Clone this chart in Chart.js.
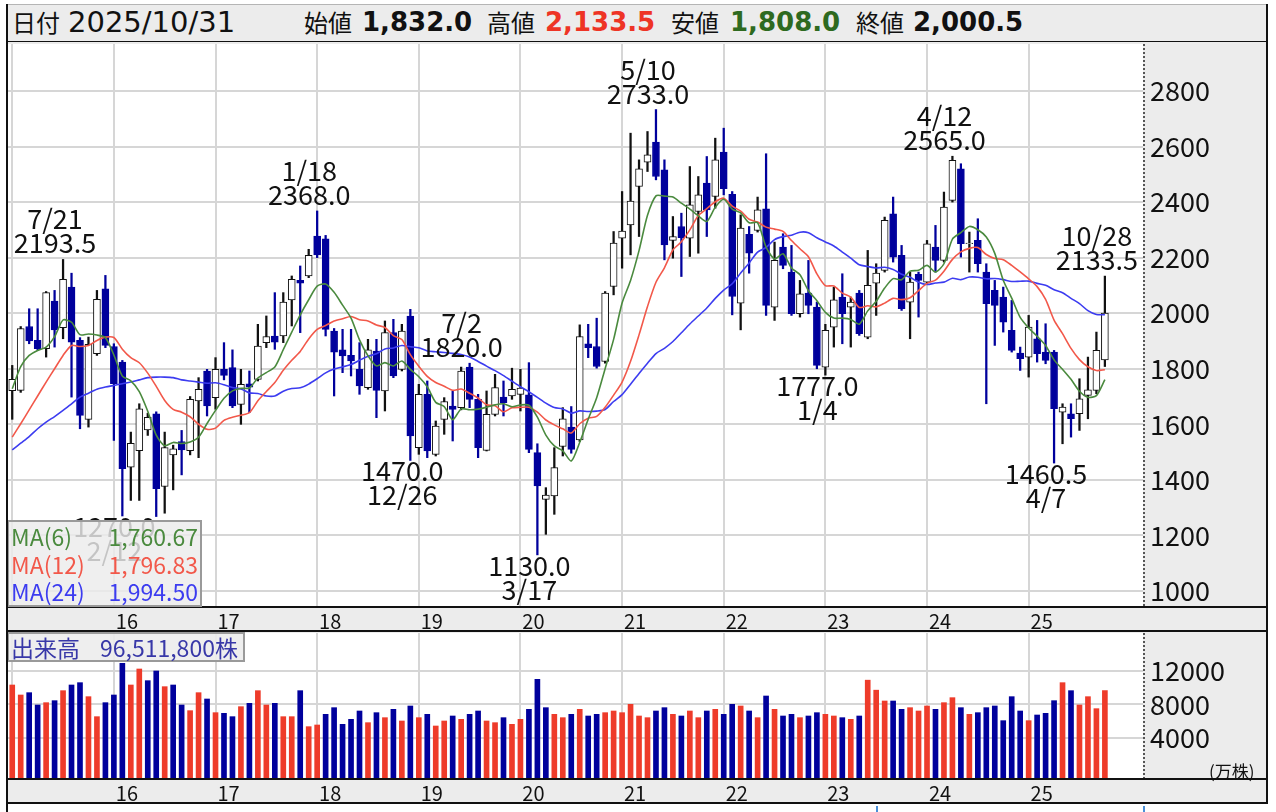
<!DOCTYPE html>
<html><head><meta charset="utf-8">
<script src="https://cdn.jsdelivr.net/npm/chart.js@4.4.1/dist/chart.umd.min.js"></script>
<style>
html,body{margin:0;padding:0;background:#fff;}
body{width:1276px;height:812px;position:relative;overflow:hidden;font-family:"Noto Sans CJK JP","Noto Sans",sans-serif;color:#111;}
.a{position:absolute;white-space:nowrap;}
#header{left:8px;top:4px;width:1259px;height:36px;background:#ececec;border-top:1px solid #b5b5b5;border-bottom:2px solid #111;}
.hl{top:4px;height:36px;line-height:36px;font-size:24px;}
.hd{top:4px;height:36px;line-height:36px;font-size:29px;font-family:"DejaVu Sans",sans-serif;}
.hv{top:4px;height:36px;line-height:36px;font-size:26px;font-weight:bold;font-family:"DejaVu Sans",sans-serif;}
canvas{position:absolute;left:8px;}
#legend{left:7px;top:520px;width:191px;height:83px;border:2px solid #9a9a9a;background:rgba(236,236,236,0.82);font-size:23px;}
#legend div{position:absolute;left:2px;right:2px;height:27px;line-height:27px;}
#legend span.v{position:absolute;right:0;}
#vlabel{left:7px;top:632px;width:232px;height:26px;border:2px solid #9a9a9a;background:rgba(236,236,236,0.9);font-size:23px;line-height:26px;color:#3838a8;padding-left:2px;}
#unit{left:1209px;top:758px;font-size:17px;}
.vline{position:absolute;background:#111;}
</style></head>
<body>
<div id="header" class="a"></div>
<span class="a hl" style="left:12px">日付</span>
<span class="a hd" style="left:68px">2025/10/31</span>
<span class="a hl" style="left:304px">始値</span>
<span class="a hv" style="left:362px">1,832.0</span>
<span class="a hl" style="left:487px">高値</span>
<span class="a hv" style="left:545px;color:#ee3425">2,133.5</span>
<span class="a hl" style="left:671px">安値</span>
<span class="a hv" style="left:730px;color:#2e6a20">1,808.0</span>
<span class="a hl" style="left:856px">終値</span>
<span class="a hv" style="left:913px">2,000.5</span>

<canvas id="main" width="1260" height="590" style="top:42px"></canvas>
<canvas id="vol" width="1260" height="172" style="top:632px"></canvas>

<div id="legend" class="a"></div>
<div id="vlabel" class="a">出来高<span style="margin-left:20px">96,511,800株</span></div>
<div id="unit" class="a">(万株)</div>

<div class="vline" style="left:6px;top:4px;width:2px;height:808px"></div>
<div class="vline" style="left:1266px;top:4px;width:2px;height:800px"></div>
<div class="vline" style="left:1143px;top:806px;width:2px;height:6px;background:#4a8fd8"></div>
<div class="vline" style="left:876px;top:806px;width:2px;height:6px;background:#4a8fd8"></div>

<script>
// ---------- data (monthly, Jan 2015 - Oct 2025) ----------
const startYear = 2015;
const opens = [1721,1722,1952,1902,1872,2044,1948,2094,1902,1618,
1854,2088,1880,1824,1446,1505,1580,1638,1376,1490,
1538,1505,1684,1792,1696,1798,1804,1672,1746,1762,
1894,1918,1918,2048,2118,2134,2278,2268,1936,1868,
1848,1798,1732,1864,1720,1930,1798,1990,1516,1708,
1492,1618,1666,1660,1806,1690,1506,1636,1698,1702,
1708,1706,1498,1330,1342,1520,1590,1544,1890,1880,
1826,2096,2270,2318,2456,2544,2616,2516,2262,2312,
2270,2366,2468,2420,2580,2428,2036,2284,2298,2376,
2022,2238,2148,1998,2072,2022,1806,1950,2058,2022,
2072,1914,2108,2154,2358,2208,2040,2140,2112,2238,
2190,2406,2520,2250,2262,2148,2082,2058,1938,1856,
1842,1908,1860,1860,1644,1638,1638,1704,1722,1832];
const highs = [1812,1952,2016,2016,2078,2082,2193.5,2144,1912,1914,
2082,2136,1890,1830,1572,1674,1640,1645,1572,1525,
1578,1700,1768,1798,1840,1894,1868,1798,1792,1960,
1990,2074,2074,2134,2170,2230,2368,2280,1945,1942,
1942,1894,1906,1906,1972,1978,1960,2014,1744,1756,
1612,1696,1720,1806,1820,1708,1720,1780,1756,1802,
1798,1822,1530,1372,1516,1660,1664,1958,1960,1982,
2078,2294,2438,2648,2552,2654,2733,2552,2348,2360,
2528,2492,2564,2630,2666,2438,2354,2312,2418,2574,
2256,2286,2244,2118,2190,2040,1960,2094,2142,2058,
2082,2226,2178,2346,2418,2244,2148,2148,2262,2316,
2436,2565,2538,2292,2340,2178,2118,2094,2046,1878,
1992,1974,1962,1866,1674,1674,1764,1842,1932,2133.5];
const lows = [1618,1715,1890,1866,1842,1878,1908,1698,1584,1590,
1848,1876,1542,1270,1326,1326,1560,1268,1280,1364,
1418,1490,1480,1630,1654,1760,1660,1600,1642,1756,
1876,1870,1894,1954,1930,2128,2200,1918,1702,1786,
1774,1708,1726,1624,1648,1768,1792,1470,1492,1480,
1486,1564,1540,1652,1660,1480,1504,1630,1630,1690,
1648,1498,1130,1204,1276,1486,1496,1538,1840,1802,
1820,2066,2162,2210,2276,2510,2480,2192,2198,2132,
2204,2216,2276,2378,2426,1994,1940,2144,2292,1992,
1974,2160,1992,1986,1998,1800,1777,1878,1890,1878,
1920,1908,1992,2148,2184,2010,1908,1986,2106,2148,
2184,2400,2202,2148,2148,1674,1884,1932,1860,1794,
1770,1824,1818,1460.5,1530,1554,1578,1620,1710,1808];
const closes = [1762,1945,1900,1872,2074,1940,2122,1896,1632,1888,
2050,1884,1746,1440,1532,1656,1625,1368,1516,1512,
1508,1690,1726,1666,1798,1776,1666,1744,1734,1882,
1916,1896,2040,2122,2108,2208,2210,1942,1860,1846,
1828,1738,1868,1722,1930,1774,1936,1558,1708,1504,
1594,1682,1654,1792,1690,1516,1636,1732,1678,1726,
1730,1510,1378,1345,1444,1620,1510,1916,1876,1808,
2072,2252,2296,2404,2520,2570,2492,2246,2276,2272,
2390,2426,2372,2552,2448,2060,2306,2216,2372,2028,
2190,2172,1998,2070,2028,1812,1938,2048,1998,2040,
1926,2100,2144,2334,2202,2016,2112,2118,2250,2190,
2382,2550,2250,2252,2178,2034,2028,1968,1866,1836,
1950,1854,1830,1656,1662,1620,1692,1724,1866,2000.5];
// volume in 万株
const volumes = [10320,9120,9400,7920,8200,8440,9640,10320,10600,8920,
6520,8200,9120,12920,10320,12240,10840,12000,10120,10320,
7920,7240,9400,8640,7000,6920,6520,7720,8120,9640,
7920,8120,6520,6520,9640,5320,5520,6800,7600,5600,
6200,7200,5800,7000,6400,7400,6000,7800,6400,6800,
5400,6000,6600,6200,6800,7200,6000,5800,6400,5600,
6200,7400,11000,7600,6800,6400,6800,7400,6600,6800,
7000,7200,7000,8000,6600,6400,7200,7600,6800,6600,
7200,6400,7200,7400,6800,8000,7800,7200,6400,9000,
7400,6600,6800,6400,6600,7000,6800,6600,6400,6200,
6600,10900,9700,8400,8400,7400,7600,7200,7800,7400,
8200,8800,7600,6800,7000,7600,7800,6040,8920,7200,
6040,6720,6920,8440,10600,9640,7920,8920,7480,9651];
// moving-average values before enough history exists
const ma6Head  = [1728,1808,1848,1866,1878];
const ma12Head = [1554,1602,1652,1702,1752,1800,1848,1884,1880,1884,1902];
const ma24Head = [1508,1532,1556,1584,1608,1628,1650,1674,1698,1712,1726,1734,1740,1746,1752,1760,1768,1770,1770,1768,1760,1756,1752];
// marked highs / lows
const annIndex = [6,13,36,47,54,62,76,96,111,123,129];
const annKind  = ['H','L','H','L','H','L','H','L','H','L','H'];
const annDate  = ['7/21','2/12','1/18','12/26','7/2','3/17','5/10','1/4','4/12','4/7','10/28'];
const priceTicks = [1000,1200,1400,1600,1800,2000,2200,2400,2600,2800];
const volumeTicks = [4000,8000,12000];
const yearLabels = ['16','17','18','19','20','21','22','23','24','25'];
const maNames = ['MA(6)','MA(12)','MA(24)'];
const maLegendValues = ['1,760.67','1,796.83','1,994.50'];
// ---------------------------------------------------------

const NAVY = '#00009c', RED_V = '#ee3b2a', GRID = '#d6d6d6';
const MA_COLORS = ['#4a8a3e','#f2584a','#3c3cf0'];
Chart.defaults.font.family = '"Noto Sans CJK JP","Noto Sans",sans-serif';
Chart.defaults.color = '#111';

const N = closes.length, PAD = 4;
const categories = [];
for (let i = 0; i < N + PAD; i++) {
  if (i < N) { const y = startYear + Math.floor(i / 12), m = i % 12 + 1; categories.push(y + '/' + String(m).padStart(2, '0')); }
  else categories.push('');
}
const isJan = i => categories[i] && categories[i].endsWith('/01');
const xLabel = i => { if (!isJan(i)) return ''; const yy = categories[i].slice(2, 4); return yearLabels.includes(yy) ? yy : ''; };

function movingAvg(n, head) {
  return closes.map((c, i) => {
    if (i < n - 1) return head[i];
    let s = 0; for (let k = i - n + 1; k <= i; k++) s += closes[k];
    return s / n;
  });
}
const ma6 = movingAvg(6, ma6Head), ma12 = movingAvg(12, ma12Head), ma24 = movingAvg(24, ma24Head);
const up = closes.map((c, i) => c >= opens[i]);
const volUp = closes.map((c, i) => i === 0 ? c >= opens[0] : c >= closes[i - 1]);

// legend
const lg = document.getElementById('legend');
maNames.forEach((n, k) => {
  const d = document.createElement('div');
  d.style.top = (1 + k * 27.5) + 'px';
  d.style.color = MA_COLORS[k];
  d.innerHTML = '<span>' + n + '</span><span class="v">' + maLegendValues[k] + '</span>';
  lg.appendChild(d);
});

const framePlugin = {
  id: 'frame',
  beforeDraw(chart) {
    const { ctx, chartArea: a, width, height } = chart;
    ctx.save();
    ctx.fillStyle = '#ececec'; ctx.fillRect(0, 0, width, height);
    ctx.fillStyle = '#fff'; ctx.fillRect(a.left, a.top, a.right - a.left, a.bottom - a.top);
    ctx.restore();
  },
  afterDraw(chart) {
    const { ctx, chartArea: a, width, height } = chart;
    ctx.save();
    ctx.strokeStyle = '#111'; ctx.lineWidth = 2;
    ctx.beginPath();
    ctx.moveTo(0, a.bottom + 1); ctx.lineTo(width, a.bottom + 1);
    ctx.moveTo(0, height - 1); ctx.lineTo(width, height - 1);
    ctx.stroke();
    // dotted separator between plot and value axis
    ctx.strokeStyle = '#555'; ctx.lineWidth = 2; ctx.setLineDash([2, 2]);
    ctx.beginPath();
    ctx.moveTo(a.right + 1, a.top); ctx.lineTo(a.right + 1, a.bottom);
    ctx.stroke();
    ctx.restore();
  }
};

const annPlugin = {
  id: 'ann',
  afterDatasetsDraw(chart) {
    const { ctx, scales: { x, y } } = chart;
    ctx.save();
    ctx.font = '27px "Noto Sans CJK JP"';
    ctx.fillStyle = '#111';
    ctx.textAlign = 'center';
    ctx.textBaseline = 'alphabetic';
    annIndex.forEach((i, k) => {
      const hi = annKind[k] === 'H';
      const v = hi ? highs[i] : lows[i];
      const px = x.getPixelForValue(i) - 8;
      const py = y.getPixelForValue(v);
      const txt = v.toFixed(1);
      if (hi) { ctx.fillText(annDate[k], px, py - 30); ctx.fillText(txt, px, py - 6); }
      else { ctx.fillText(txt, px, py + 21); ctx.fillText(annDate[k], px, py + 45); }
    });
    ctx.restore();
  }
};

function xScale() {
  return {
    offset: true,
    grid: { offset: false, color: c => isJan(c.index) ? GRID : 'rgba(0,0,0,0)', lineWidth: 2, drawTicks: false },
    border: { display: false },
    ticks: { autoSkip: false, maxRotation: 0, minRotation: 0, padding: 3, labelOffset: 13, font: { size: 20 }, color: '#111', callback: (v, i) => xLabel(i) },
    afterFit: s => { s.height = 26; s.paddingLeft = 0; s.paddingRight = 0; }
  };
}
function yScale(min, max, ticks) {
  return {
    position: 'right', min, max,
    afterBuildTicks: s => { s.ticks = ticks.map(v => ({ value: v })); },
    grid: { color: GRID, lineWidth: 2, drawTicks: false },
    border: { display: false },
    ticks: { padding: 7, font: { size: 27 }, color: '#111', callback: v => String(v) },
    afterFit: s => { s.width = 125; s.paddingTop = 0; s.paddingBottom = 0; }
  };
}
const common = {
  responsive: false, animation: false, devicePixelRatio: 1,
  plugins: { legend: { display: false }, tooltip: { enabled: false } },
};

new Chart(document.getElementById('main'), {
  type: 'bar',
  data: {
    labels: categories,
    datasets: [
      { type: 'line', data: ma6, borderColor: MA_COLORS[0], borderWidth: 1.6, pointRadius: 0, tension: 0.25, order: 0 },
      { type: 'line', data: ma12, borderColor: MA_COLORS[1], borderWidth: 1.6, pointRadius: 0, tension: 0.25, order: 0 },
      { type: 'line', data: ma24, borderColor: MA_COLORS[2], borderWidth: 1.6, pointRadius: 0, tension: 0.25, order: 0 },
      { type: 'bar', data: opens.map((o, i) => [o, closes[i]]),
        backgroundColor: up.map(u => u ? '#ffffff' : NAVY), borderColor: up.map(u => u ? '#111' : NAVY),
        borderWidth: 1, borderSkipped: false, barThickness: 7, grouped: false, order: 1 },
      { type: 'bar', data: lows.map((l, i) => [l, highs[i]]),
        backgroundColor: up.map(u => u ? '#111' : NAVY), borderWidth: 0, barThickness: 1.6, grouped: false, order: 2 }
    ]
  },
  options: Object.assign({}, common, {
    layout: { padding: { top: 2, left: 0, right: 0, bottom: 0 } },
    scales: { x: xScale(), y: yScale(946, 2969, priceTicks) }
  }),
  plugins: [framePlugin, annPlugin]
});

new Chart(document.getElementById('vol'), {
  type: 'bar',
  data: {
    labels: categories,
    datasets: [{ data: volumes, base: -840, backgroundColor: volUp.map(u => u ? RED_V : NAVY), barThickness: 5 }]
  },
  options: Object.assign({}, common, {
    layout: { padding: { top: 1, left: 0, right: 0, bottom: 0 } },
    scales: { x: xScale(), y: yScale(-840, 16560, volumeTicks) }
  }),
  plugins: [framePlugin]
});
</script>
</body></html>
